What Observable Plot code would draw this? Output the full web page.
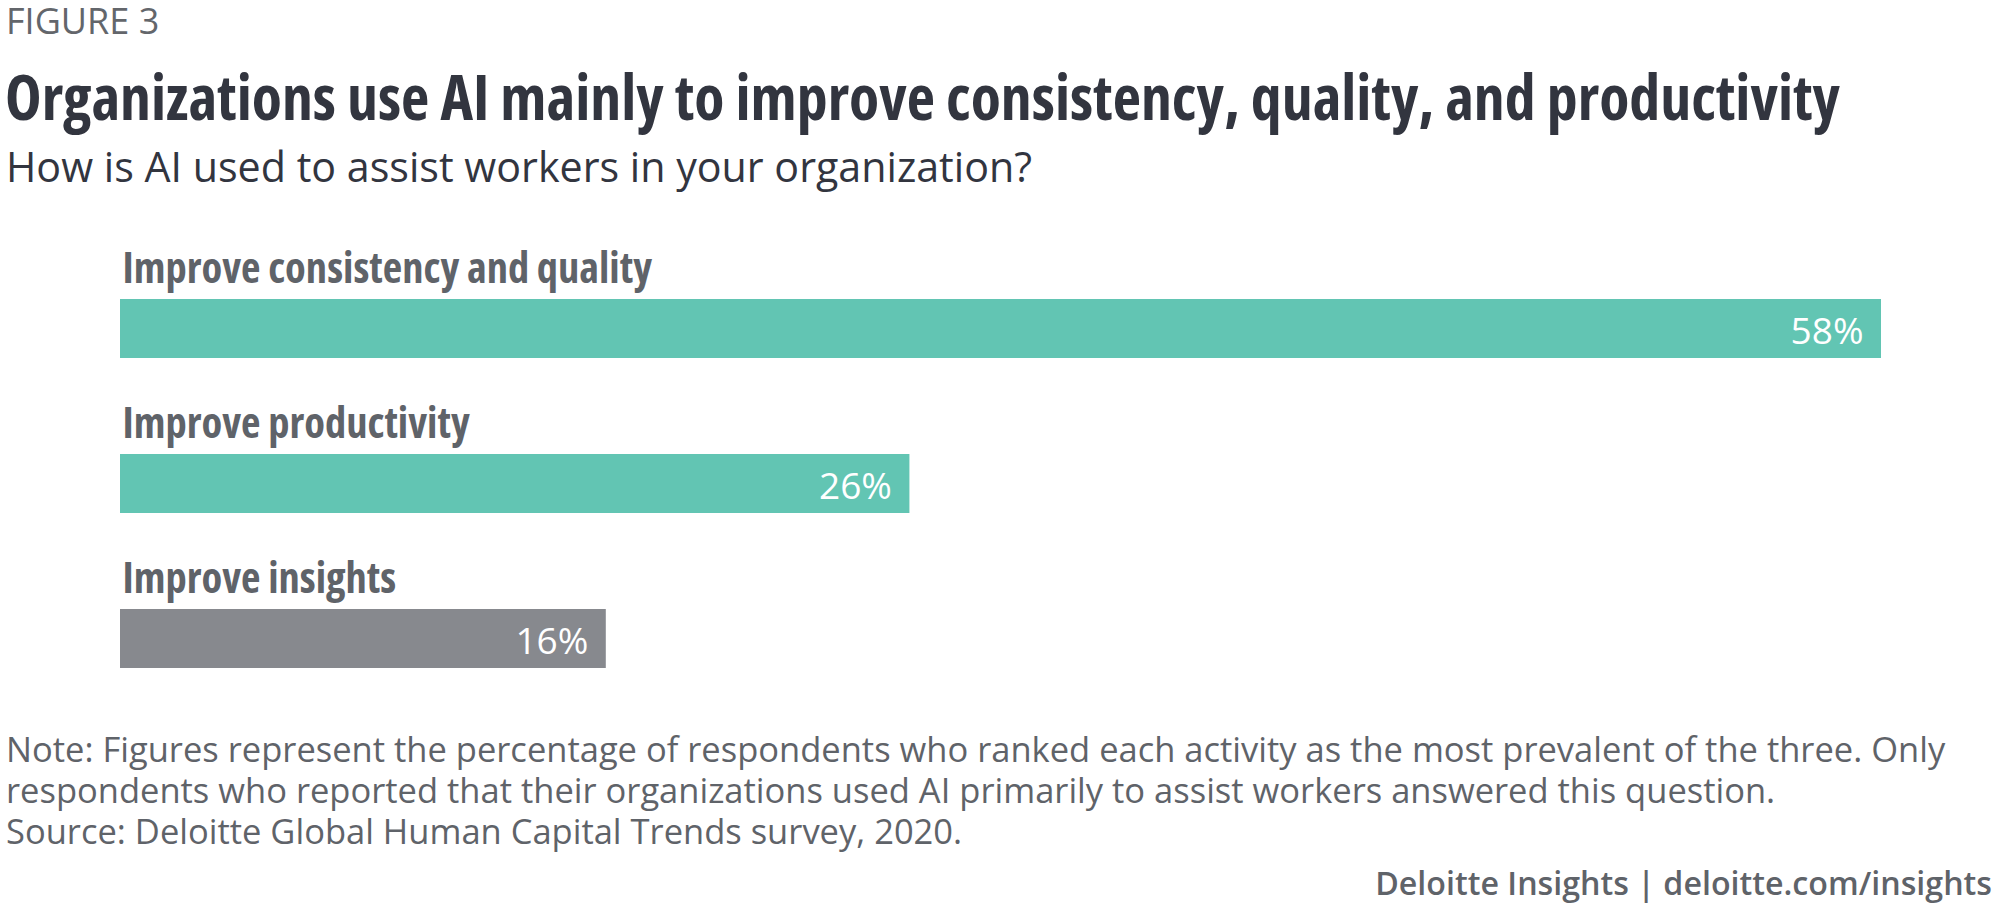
<!DOCTYPE html>
<html>
<head>
<meta charset="utf-8">
<script src="https://cdn.jsdelivr.net/npm/d3@7"></script>
<script src="https://cdn.jsdelivr.net/npm/@observablehq/plot@0.6"></script>
<style>
  html, body { margin: 0; padding: 0; background: #fff; }
  body { width: 2000px; height: 917px; position: relative; overflow: hidden; font-family: "Open Sans", sans-serif; }
  .abs { position: absolute; white-space: nowrap; }
  #fig { left: 6px; top: 3px; font-size: 36px; line-height: 36px; color: #63666b; }
  #title { left: 5px; top: 65px; font-size: 61.8px; line-height: 62px; font-weight: 700; font-stretch: 75%; color: #32353f; }
  #sub { left: 6px; top: 146px; font-size: 41.2px; line-height: 41px; color: #32353f; }
  #note { left: 6px; top: 728px; font-size: 34.5px; color: #5f6369; }
  #note div { height: 41px; line-height: 41px; }
  #foot { right: 8px; top: 867px; font-size: 32.2px; line-height: 32px; font-weight: 600; color: #5f6369; }
  #chart { left: 0; top: 190px; }
  #chart svg text.cond { font-stretch: 75%; }
</style>
</head>
<body>
<div id="fig" class="abs">FIGURE 3</div>
<div id="title" class="abs">Organizations use AI mainly to improve consistency, quality, and productivity</div>
<div id="sub" class="abs">How is AI used to assist workers in your organization?</div>
<div id="chart" class="abs"></div>
<div id="note" class="abs">
  <div>Note: Figures represent the percentage of respondents who ranked each activity as the most prevalent of the three. Only</div>
  <div>respondents who reported that their organizations used AI primarily to assist workers answered this question.</div>
  <div>Source: Deloitte Global Human Capital Trends survey, 2020.</div>
</div>
<div id="foot" class="abs">Deloitte Insights | deloitte.com/insights</div>
<script>
const categories = ["Improve consistency and quality", "Improve productivity", "Improve insights"];
const values = [58, 26, 16];
const valueLabels = ["58%", "26%", "16%"];
const barColors = ["#62c5b3", "#62c5b3", "#87898e"];

const data = categories.map((c, i) => ({category: c, value: values[i], label: valueLabels[i]}));

const chart = Plot.plot({
  width: 2000,
  height: 500,
  marginTop: 13,
  marginBottom: 22,
  marginLeft: 120,
  marginRight: 119,
  x: {domain: [0, 58], axis: null},
  y: {domain: categories, axis: null, padding: 0},
  color: {domain: categories, range: barColors},
  marks: [
    Plot.barX(data, {x: "value", y: "category", fill: "category", insetTop: 96}),
    Plot.text(data, {x: 0, y: "category", text: "category", textAnchor: "start", lineAnchor: "bottom",
      dx: 2, dy: 1.5, fontSize: 42.5, fontWeight: 700, fill: "#5f6369", fontFamily: "Open Sans"}),
    Plot.text(data, {x: "value", y: "category", text: "label", textAnchor: "end", lineAnchor: "bottom",
      dx: -18, dy: 62.5, fontSize: 37, fontWeight: 500, fill: "#ffffff", fontFamily: "Open Sans"})
  ]
});
// condense category labels
d3.select(chart).selectAll("text").filter(function() { return categories.includes(this.textContent); }).classed("cond", true);
document.getElementById("chart").appendChild(chart);
</script>
</body>
</html>
